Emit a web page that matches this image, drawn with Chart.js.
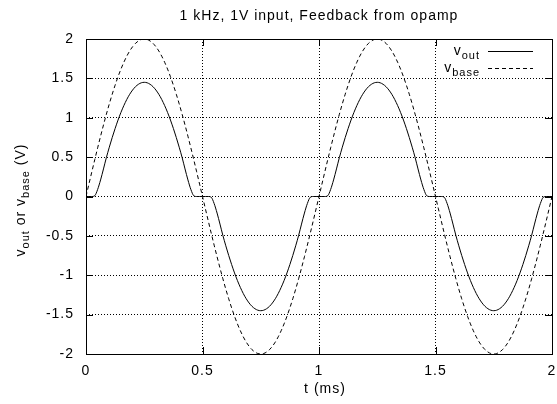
<!DOCTYPE html>
<html>
<head>
<meta charset="utf-8">
<script src="https://cdn.jsdelivr.net/npm/chart.js@4.4.0/dist/chart.umd.min.js"></script>
<style>
  body { margin: 0; background: #fff; }
  canvas { display: block; }
</style>
</head>
<body>
<canvas id="myChart" width="557" height="404"></canvas>
<script>
const cts = document.querySelector('#myChart').getContext('2d');

// time in ms, one sample every 0.0125 ms
const times = [
    0, 0.0125, 0.025, 0.0375, 0.05, 0.0625, 0.075, 0.0875,
    0.1, 0.1125, 0.125, 0.1375, 0.15, 0.1625, 0.175, 0.1875,
    0.2, 0.2125, 0.225, 0.2375, 0.25, 0.2625, 0.275, 0.2875,
    0.3, 0.3125, 0.325, 0.3375, 0.35, 0.3625, 0.375, 0.3875,
    0.4, 0.4125, 0.425, 0.4375, 0.45, 0.4625, 0.475, 0.4875,
    0.5, 0.5125, 0.525, 0.5375, 0.55, 0.5625, 0.575, 0.5875,
    0.6, 0.6125, 0.625, 0.6375, 0.65, 0.6625, 0.675, 0.6875,
    0.7, 0.7125, 0.725, 0.7375, 0.75, 0.7625, 0.775, 0.7875,
    0.8, 0.8125, 0.825, 0.8375, 0.85, 0.8625, 0.875, 0.8875,
    0.9, 0.9125, 0.925, 0.9375, 0.95, 0.9625, 0.975, 0.9875,
    1, 1.0125, 1.025, 1.0375, 1.05, 1.0625, 1.075, 1.0875,
    1.1, 1.1125, 1.125, 1.1375, 1.15, 1.1625, 1.175, 1.1875,
    1.2, 1.2125, 1.225, 1.2375, 1.25, 1.2625, 1.275, 1.2875,
    1.3, 1.3125, 1.325, 1.3375, 1.35, 1.3625, 1.375, 1.3875,
    1.4, 1.4125, 1.425, 1.4375, 1.45, 1.4625, 1.475, 1.4875,
    1.5, 1.5125, 1.525, 1.5375, 1.55, 1.5625, 1.575, 1.5875,
    1.6, 1.6125, 1.625, 1.6375, 1.65, 1.6625, 1.675, 1.6875,
    1.7, 1.7125, 1.725, 1.7375, 1.75, 1.7625, 1.775, 1.7875,
    1.8, 1.8125, 1.825, 1.8375, 1.85, 1.8625, 1.875, 1.8875,
    1.9, 1.9125, 1.925, 1.9375, 1.95, 1.9625, 1.975, 1.9875,
    2,
];

const vout = [
    0, 0, 0, 0.01, 0.09, 0.21, 0.35, 0.495,
    0.626, 0.749, 0.864, 0.971, 1.068, 1.155, 1.232, 1.298,
    1.352, 1.395, 1.425, 1.444, 1.45, 1.444, 1.425, 1.395,
    1.352, 1.298, 1.232, 1.155, 1.068, 0.971, 0.864, 0.749,
    0.626, 0.495, 0.35, 0.21, 0.09, 0.01, 0, 0,
    0, 0, 0, -0.01, -0.09, -0.21, -0.35, -0.495,
    -0.626, -0.749, -0.864, -0.971, -1.068, -1.155, -1.232, -1.298,
    -1.352, -1.395, -1.425, -1.444, -1.45, -1.444, -1.425, -1.395,
    -1.352, -1.298, -1.232, -1.155, -1.068, -0.971, -0.864, -0.749,
    -0.626, -0.495, -0.35, -0.21, -0.09, -0.01, 0, 0,
    0, 0, 0, 0.01, 0.09, 0.21, 0.35, 0.495,
    0.626, 0.749, 0.864, 0.971, 1.068, 1.155, 1.232, 1.298,
    1.352, 1.395, 1.425, 1.444, 1.45, 1.444, 1.425, 1.395,
    1.352, 1.298, 1.232, 1.155, 1.068, 0.971, 0.864, 0.749,
    0.626, 0.495, 0.35, 0.21, 0.09, 0.01, 0, 0,
    0, 0, 0, -0.01, -0.09, -0.21, -0.35, -0.495,
    -0.626, -0.749, -0.864, -0.971, -1.068, -1.155, -1.232, -1.298,
    -1.352, -1.395, -1.425, -1.444, -1.45, -1.444, -1.425, -1.395,
    -1.352, -1.298, -1.232, -1.155, -1.068, -0.971, -0.864, -0.749,
    -0.626, -0.495, -0.35, -0.21, -0.09, -0.01, 0, 0,
    0,
];

const vbase = [
    0, 0.157, 0.313, 0.467, 0.618, 0.765, 0.908, 1.045,
    1.176, 1.299, 1.414, 1.521, 1.618, 1.705, 1.782, 1.848,
    1.902, 1.945, 1.975, 1.994, 2, 1.994, 1.975, 1.945,
    1.902, 1.848, 1.782, 1.705, 1.618, 1.521, 1.414, 1.299,
    1.176, 1.045, 0.908, 0.765, 0.618, 0.467, 0.313, 0.157,
    0, -0.157, -0.313, -0.467, -0.618, -0.765, -0.908, -1.045,
    -1.176, -1.299, -1.414, -1.521, -1.618, -1.705, -1.782, -1.848,
    -1.902, -1.945, -1.975, -1.994, -2, -1.994, -1.975, -1.945,
    -1.902, -1.848, -1.782, -1.705, -1.618, -1.521, -1.414, -1.299,
    -1.176, -1.045, -0.908, -0.765, -0.618, -0.467, -0.313, -0.157,
    0, 0.157, 0.313, 0.467, 0.618, 0.765, 0.908, 1.045,
    1.176, 1.299, 1.414, 1.521, 1.618, 1.705, 1.782, 1.848,
    1.902, 1.945, 1.975, 1.994, 2, 1.994, 1.975, 1.945,
    1.902, 1.848, 1.782, 1.705, 1.618, 1.521, 1.414, 1.299,
    1.176, 1.045, 0.908, 0.765, 0.618, 0.467, 0.313, 0.157,
    0, -0.157, -0.313, -0.467, -0.618, -0.765, -0.908, -1.045,
    -1.176, -1.299, -1.414, -1.521, -1.618, -1.705, -1.782, -1.848,
    -1.902, -1.945, -1.975, -1.994, -2, -1.994, -1.975, -1.945,
    -1.902, -1.848, -1.782, -1.705, -1.618, -1.521, -1.414, -1.299,
    -1.176, -1.045, -0.908, -0.765, -0.618, -0.467, -0.313, -0.157,
    0,
];

const xTicks = [0, 0.5, 1, 1.5, 2];
const yTicks = [-2, -1.5, -1, -0.5, 0, 0.5, 1, 1.5, 2];

const FONT = '"Liberation Sans", Arial, sans-serif';

// draws text made of [text, isSubscript] parts, starting at x
function drawParts(ctx, parts, x, y, size, subSize) {
    parts.forEach(([t, sub]) => {
        ctx.font = (sub ? subSize : size) + 'px ' + FONT;
        ctx.fillText(t, x, sub ? y + 4 : y);
        x += ctx.measureText(t).width;
    });
}

function partsWidth(ctx, parts, size, subSize) {
    let w = 0;
    parts.forEach(([t, sub]) => {
        ctx.font = (sub ? subSize : size) + 'px ' + FONT;
        w += ctx.measureText(t).width;
    });
    return w;
}

const gnuplotBits = {
    id: 'gnuplotBits',
    beforeDraw(chart) {
        // gnuplot text is a bit more spread out than plain Arial
        chart.ctx.letterSpacing = '1px';
    },
    afterDraw(chart) {
        const ctx = chart.ctx;
        const a = chart.chartArea;
        const xs = chart.scales.x, ys = chart.scales.y;
        ctx.save();
        ctx.letterSpacing = '1px';
        ctx.strokeStyle = '#000';
        ctx.fillStyle = '#000';
        ctx.lineWidth = 1;
        ctx.setLineDash([]);

        // frame
        ctx.strokeRect(Math.round(a.left) + 0.5, Math.round(a.top) + 0.5,
            Math.round(a.right - a.left), Math.round(a.bottom - a.top));

        // inward ticks on all four sides
        ctx.beginPath();
        xTicks.forEach(v => {
            const px = Math.round(xs.getPixelForValue(v)) + 0.5;
            ctx.moveTo(px, a.bottom); ctx.lineTo(px, a.bottom - 7);
            ctx.moveTo(px, a.top); ctx.lineTo(px, a.top + 7);
        });
        yTicks.forEach(v => {
            const py = Math.round(ys.getPixelForValue(v)) + 0.5;
            ctx.moveTo(a.left, py); ctx.lineTo(a.left + 7, py);
            ctx.moveTo(a.right, py); ctx.lineTo(a.right - 7, py);
        });
        ctx.stroke();

        // title
        ctx.textBaseline = 'alphabetic';
        ctx.textAlign = 'center';
        ctx.font = '14px ' + FONT;
        ctx.fillText('1 kHz, 1V input, Feedback from opamp', (a.left + a.right) / 2, 20);

        // x axis title
        ctx.fillText('t (ms)', (a.left + a.right) / 2 + 6, 393);

        // y axis title, rotated
        ctx.textAlign = 'left';
        const yParts = [['v', false], ['out', true], [' or v', false], ['base', true], [' (V)', false]];
        const w = partsWidth(ctx, yParts, 14, 11);
        ctx.save();
        ctx.translate(25, 200);
        ctx.rotate(-Math.PI / 2);
        drawParts(ctx, yParts, -w / 2, 0, 14, 11);
        ctx.restore();

        // legend
        const rows = [
            { parts: [['v', false], ['out', true]], y: 55, dash: [] },
            { parts: [['v', false], ['base', true]], y: 72, dash: [4, 3] },
        ];
        rows.forEach(r => {
            const rw = partsWidth(ctx, r.parts, 14, 11);
            ctx.fillStyle = '#000';
            drawParts(ctx, r.parts, 480 - rw, r.y, 14, 11);
            ctx.setLineDash(r.dash);
            ctx.beginPath();
            ctx.moveTo(488, r.y - 3.5);
            ctx.lineTo(533, r.y - 3.5);
            ctx.stroke();
        });
        ctx.restore();
    }
};

const tickFont = { family: FONT, size: 14 };

const data = {
    labels: times,
    datasets: [
        {
            label: 'vout',
            data: vout,
            borderColor: '#000',
            borderWidth: 1,
            pointRadius: 0,
            cubicInterpolationMode: 'monotone',
            fill: false,
        },
        {
            label: 'vbase',
            data: vbase,
            borderColor: '#000',
            borderWidth: 1,
            borderDash: [4, 3],
            pointRadius: 0,
            cubicInterpolationMode: 'monotone',
            fill: false,
        },
    ],
};

const config = {
    type: 'line',
    data: data,
    options: {
        responsive: false,
        animation: false,
        events: [],
        layout: { padding: { top: 39, right: 5, left: 0, bottom: 0 } },
        plugins: {
            legend: { display: false },
            title: { display: false },
            tooltip: { enabled: false },
        },
        scales: {
            x: {
                type: 'linear',
                min: 0,
                max: 2,
                afterBuildTicks: s => { s.ticks = xTicks.map(v => ({ value: v })); },
                ticks: { color: '#000', font: tickFont, padding: 9, maxRotation: 0, autoSkip: false, callback: v => String(v) },
                grid: { color: '#000', lineWidth: 1, drawTicks: false },
                border: { display: false, dash: [1, 2] },
                afterFit: s => { s.height = 50; s.paddingLeft = 0; s.paddingRight = 0; },
            },
            y: {
                min: -2,
                max: 2,
                afterBuildTicks: s => { s.ticks = yTicks.map(v => ({ value: v })); },
                ticks: { color: '#000', font: tickFont, padding: 12, callback: v => String(v) },
                grid: { color: '#000', lineWidth: 1, drawTicks: false },
                border: { display: false, dash: [1, 2] },
                afterFit: s => { s.width = 86; s.paddingTop = 0; s.paddingBottom = 0; },
            },
        },
    },
    plugins: [gnuplotBits],
};

const myChart = new Chart(cts, config);
</script>
</body>
</html>
